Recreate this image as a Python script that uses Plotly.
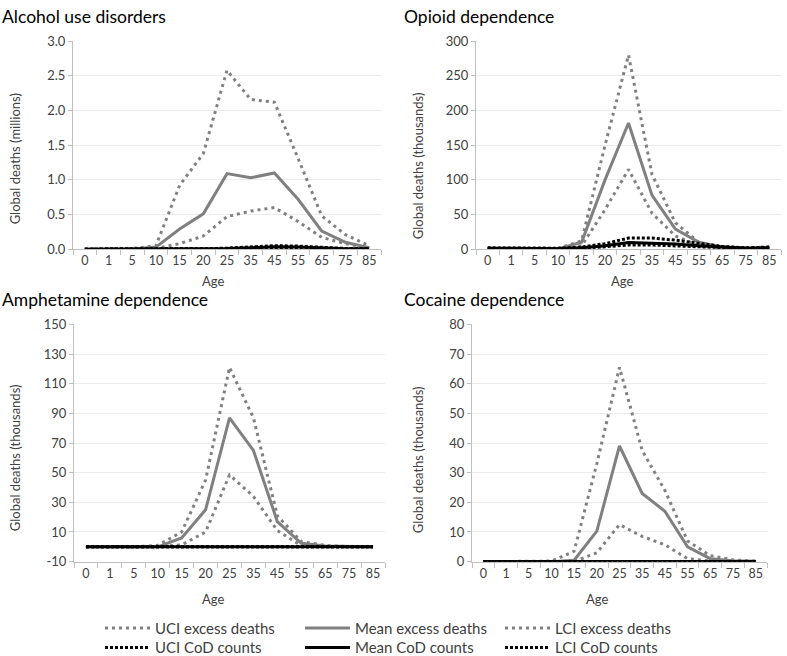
import plotly.graph_objects as go

ages = ["0", "1", "5", "10", "15", "20", "25", "35", "45", "55", "65", "75", "85"]

# Alcohol use disorders (millions)
alc_uci = [0, 0, 0.01, 0.05, 0.92, 1.38, 2.58, 2.16, 2.12, 1.31, 0.48, 0.21, 0.05]
alc_mean = [0, 0, 0, 0.03, 0.29, 0.51, 1.09, 1.03, 1.10, 0.72, 0.26, 0.10, 0.02]
alc_lci = [0, 0, 0, 0.01, 0.08, 0.19, 0.47, 0.55, 0.60, 0.40, 0.17, 0.08, 0.02]
alc_cod_uci = [0, 0, 0, 0, 0, 0.005, 0.015, 0.03, 0.05, 0.045, 0.025, 0.01, 0.01]
alc_cod_mean = [0, 0, 0, 0, 0, 0.003, 0.01, 0.02, 0.035, 0.03, 0.018, 0.008, 0.006]
alc_cod_lci = [0, 0, 0, 0, 0, 0.002, 0.008, 0.015, 0.025, 0.022, 0.012, 0.005, 0.004]

# Opioid dependence (thousands)
opi_uci = [1, 1, 0.5, 1, 12, 150, 280, 108, 38, 10, 3, 2, 3]
opi_mean = [1, 1, 0.5, 0.5, 10, 100, 182, 78, 29, 10, 3, 1.5, 2]
opi_lci = [0.5, 0.5, 0.3, 0.3, 5, 57, 115, 52, 19, 5, 2, 1, 1.5]
opi_cod_uci = [2, 2, 1, 1, 3, 8, 16, 16, 13, 8, 4, 2, 3]
opi_cod_mean = [1.5, 1.5, 0.8, 0.8, 2, 5, 9.5, 9, 7.5, 5, 3, 1.5, 2]
opi_cod_lci = [1, 1, 0.5, 0.5, 1.5, 3.5, 6, 6, 5, 3.5, 2, 1, 1.5]

# Amphetamine dependence (thousands)
amp_uci = [0, 0, 0, 1, 10, 45, 121, 87, 21, 3.5, 1, 0, 0]
amp_mean = [0, 0, 0, 0, 6, 25, 87, 65, 17, 2.4, 0.5, 0, 0]
amp_lci = [0, 0, 0, 0, 1.3, 10, 48.5, 34, 11, 0.7, 0, 0, 0]
amp_cod_uci = [0.05] * 13
amp_cod_mean = [0.03] * 13
amp_cod_lci = [0.02] * 13
amp_ticks = [-10, 10, 30, 50, 70, 90, 110, 130, 150]
amp_tick_labels = ["-10", "10", "30", "50", "70", "90", "110", "130", "150"]

# Cocaine dependence (thousands)
coc_uci = [0, 0, 0, 0.2, 3.5, 33, 65.5, 37.5, 24, 7, 2, 0.6, 0.2]
coc_mean = [0, 0, 0, 0, 0.5, 10.3, 39, 23, 17, 5, 1, 0.3, 0.1]
coc_lci = [0, 0, 0, 0, 0, 3, 12.5, 8.5, 5.7, 1, 0.2, 0, 0]
coc_cod_uci = [0.05] * 13
coc_cod_mean = [0.03] * 13
coc_cod_lci = [0.02] * 13

# paper is a bit taller than the window so the legend boxes never push margins
W, H = 787, 680
GREY = "#808080"
TXT = "#404040"
FONT = "Lato"


def px(x):
    return x / W


def py(y):
    return 1 - y / H


panels = [
    # title, data, x domain px, y domain px (top, bottom), range, dtick, tick0, fmt,
    # y title, y title position px, title position px
    ("Alcohol use disorders",
     [alc_uci, alc_mean, alc_lci, alc_cod_uci, alc_cod_mean, alc_cod_lci],
     (73, 381), (34, 247), [0, 3], 0.5, 0, ".1f",
     "Global deaths (millions)", (15, 155), (0, 9)),
    ("Opioid dependence",
     [opi_uci, opi_mean, opi_lci, opi_cod_uci, opi_cod_mean, opi_cod_lci],
     (476, 781), (34, 247), [0, 300], 50, 0, "d",
     "Global deaths (thousands)", (418, 161), (402, 9)),
    ("Amphetamine dependence",
     [amp_uci, amp_mean, amp_lci, amp_cod_uci, amp_cod_mean, amp_cod_lci],
     (74, 385), (324, 567), [-10, 150], 20, -10, "d",
     "Global deaths (thousands)", (15, 461), (0, 299)),
    ("Cocaine dependence",
     [coc_uci, coc_mean, coc_lci, coc_cod_uci, coc_cod_mean, coc_cod_lci],
     (472, 767), (324, 567), [0, 80], 10, 0, "d",
     "Global deaths (thousands)", (418, 462), (402, 299)),
]

names = ["UCI excess deaths", "Mean excess deaths", "LCI excess deaths",
         "UCI CoD counts", "Mean CoD counts", "LCI CoD counts"]
styles = [
    dict(color=GREY, width=3, dash="3px,4px"),
    dict(color=GREY, width=3),
    dict(color=GREY, width=3, dash="3px,4px"),
    dict(color="black", width=3, dash="3px,2px"),
    dict(color="black", width=3),
    dict(color="black", width=3, dash="3px,2px"),
]

fig = go.Figure()
layout = {}
annotations = []

for i, (title, series, xd, yd, yr, dt, t0, fmt, ytitle, ytpos, tpos) in enumerate(panels):
    n = "" if i == 0 else str(i + 1)
    for j, vals in enumerate(series):
        fig.add_trace(go.Scatter(
            x=ages, y=vals, mode="lines", name=names[j], line=styles[j],
            xaxis="x" + n, yaxis="y" + n,
            legend="legend" if j < 3 else "legend2",
            showlegend=(i == 0), hoverinfo="x+y+name"
        ))
    layout["xaxis" + n] = dict(
        domain=[px(xd[0]), px(xd[1])], anchor="y" + n, type="category",
        range=[-0.5, len(ages) - 0.5],
        showline=True, linecolor="#bfbfbf", linewidth=1,
        ticks="outside", tickson="boundaries", ticklen=5, tickcolor="#bfbfbf",
        showgrid=False, tickangle=0,
        tickfont=dict(size=12.5, color=TXT, family=FONT),
        fixedrange=True
    )
    layout["yaxis" + n] = dict(
        domain=[py(yd[1]), py(yd[0])], anchor="x" + n, range=yr,
        dtick=dt, tick0=t0, tickformat=fmt,
        showline=True, linecolor="#bfbfbf", linewidth=1,
        ticks="outside", ticklen=4, tickcolor="#bfbfbf",
        showgrid=True, gridcolor="#ececec", zeroline=False,
        tickfont=dict(size=13, color=TXT, family=FONT),
        fixedrange=True
    )
    annotations.append(dict(
        text=title, x=px(tpos[0]), y=py(tpos[1]), xref="paper", yref="paper",
        xanchor="left", yanchor="middle", showarrow=False,
        font=dict(size=17.5, color="black", family=FONT)
    ))
    annotations.append(dict(
        text=ytitle, x=px(ytpos[0]), y=py(ytpos[1]), xref="paper", yref="paper",
        xanchor="center", yanchor="middle", showarrow=False, textangle=-90,
        font=dict(size=13, color=TXT, family=FONT)
    ))

# Excel shows a plain hyphen for the negative tick
layout["yaxis3"].update(tickmode="array", tickvals=amp_ticks, ticktext=amp_tick_labels)

for ax_x, ax_y in [(213, 280), (622, 280), (213, 605), (597, 605)]:
    annotations.append(dict(
        text="Age", x=px(ax_x), y=py(ax_y), xref="paper", yref="paper",
        xanchor="center", yanchor="middle", showarrow=False,
        font=dict(size=13, color=TXT, family=FONT)
    ))

legend_style = dict(
    orientation="h", xanchor="left", yanchor="bottom",
    entrywidth=140, entrywidthmode="pixels",
    font=dict(size=15, color=TXT, family=FONT),
    bgcolor="rgba(0,0,0,0)", itemwidth=45, tracegroupgap=0
)

fig.update_layout(
    width=W, height=H,
    margin=dict(l=0, r=0, t=0, b=0),
    plot_bgcolor="white", paper_bgcolor="white",
    font=dict(family=FONT),
    annotations=annotations,
    legend=dict(x=px(100), y=py(652), **legend_style),
    legend2=dict(x=px(100), y=py(672), **legend_style),
    **layout
)

fig.write_html(
    "out.html",
    config={"displayModeBar": False},
    post_script="document.body.style.margin='0';document.body.style.overflow='hidden';"
)
